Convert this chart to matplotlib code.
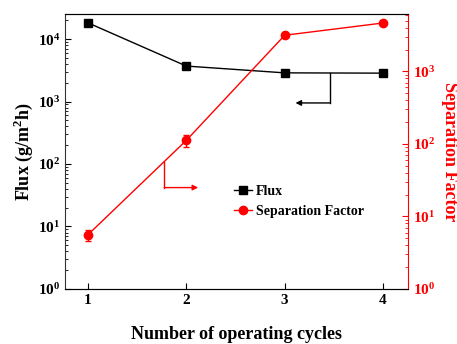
import numpy as np
import matplotlib.pyplot as plt

plt.rcParams['font.family'] = ['Liberation Serif', 'DejaVu Serif']
plt.rcParams['font.weight'] = 'bold'
plt.rcParams['mathtext.fontset'] = 'custom'
plt.rcParams['mathtext.rm'] = 'Liberation Serif:bold'
plt.rcParams['mathtext.bf'] = 'Liberation Serif:bold'

# operating cycles and measured values
cycles = [1, 2, 3, 4]
flux = [18200, 3700, 2880, 2850]
sep_factor = [5.6, 112, 3150, 4650]
sep_err = [1.0, 21, 0, 0]

fig = plt.figure(figsize=(4.57, 3.44), dpi=100)
ax1 = fig.add_axes([0.142, 0.160, 0.751, 0.799])
ax2 = ax1.twinx()

l1, = ax1.plot(cycles, flux, '-s', color='black', lw=1, ms=5.5, label='Flux')
ax1.set_yscale('log')
ax1.set_ylim(1, 10**4.4)
ax1.set_xlim(0.765, 4.255)
ax1.set_xticks(cycles)

eb = ax2.errorbar(cycles, sep_factor, yerr=sep_err, fmt='-o', color='red',
                  ecolor='red', lw=1, ms=6, capsize=2.5, elinewidth=1,
                  label='Separation Factor')
ax2.set_yscale('log')
ax2.set_ylim(1, 10**3.79)

# guide arrows pointing each curve to its axis
ax1.plot([3.456, 3.456], [2880, 950], color='black', lw=1)
ax1.annotate('', xy=(3.11, 950), xytext=(3.456, 950),
             arrowprops=dict(arrowstyle='-|>', color='black', lw=1,
                             mutation_scale=8, shrinkA=0, shrinkB=0))
ax2.plot([1.776, 1.776], [57, 25], color='red', lw=1)
ax2.annotate('', xy=(2.12, 25), xytext=(1.776, 25),
             arrowprops=dict(arrowstyle='-|>', color='red', lw=1,
                             mutation_scale=8, shrinkA=0, shrinkB=0))

for ax in (ax1, ax2):
    ax.tick_params(which='both', direction='in', labelsize=11)
    ax.tick_params(which='major', length=4)
    ax.tick_params(which='minor', length=2)

ax1.tick_params(axis='y', which='both', right=False)
ax2.tick_params(axis='y', which='both', colors='red')
for side in ('left', 'top', 'bottom'):
    ax1.spines[side].set_color('#333333')
ax2.spines['right'].set_color('red')
ax2.spines['left'].set_visible(False)
ax1.spines['right'].set_visible(False)

ax1.set_xlabel('Number of operating cycles', fontsize=13, fontweight='bold',
               labelpad=14)
ax1.set_ylabel('Flux (g/m$^2$h)', fontsize=13, fontweight='bold', labelpad=2)
ax2.set_ylabel('Separation Factor', fontsize=13, fontweight='bold',
               color='red', rotation=270, labelpad=16)

# legend uses the plain line handles, without the error bars
ax2.legend([l1, eb.lines[0]], ['Flux', 'Separation Factor'], loc='upper left',
           bbox_to_anchor=(0.455, 0.425), frameon=False, fontsize=10,
           handlelength=1.3, handletextpad=0.3, labelspacing=0.5)

fig.savefig('out.png', dpi=100)
